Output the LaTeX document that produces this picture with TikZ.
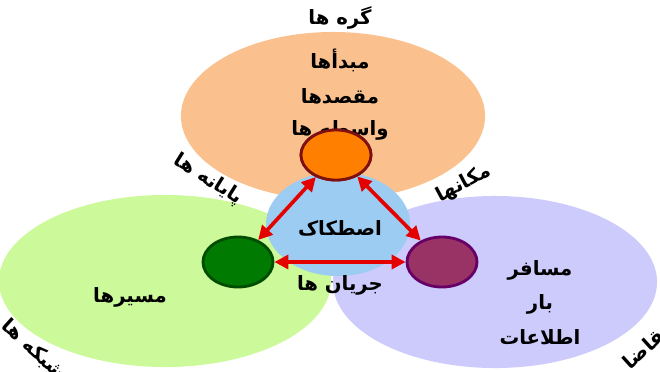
\documentclass[tikz,border=0pt]{standalone}
\usepackage{fontspec}
\usetikzlibrary{arrows.meta,shapes.geometric}
\newfontfamily\farsi[Script=Arabic]{DejaVu Sans}
\TeXXeTstate=1
\definecolor{peach}{HTML}{FAC18F}
\definecolor{leafgreen}{HTML}{CCF999}
\definecolor{lavender}{HTML}{CCCBFC}
\definecolor{skyblue}{HTML}{9DCCF2}
\definecolor{hubgreen}{HTML}{007A00}
\definecolor{hubplum}{HTML}{993366}
\definecolor{hubrim}{HTML}{7F1010}
\newcommand{\fa}[1]{{\farsi\bfseries\beginR #1\endR}}
\tikzset{
  zone/.style={ellipse, draw=none},
  hub/.style={ellipse, line width=2pt, minimum width=1.75cm, minimum height=1.25cm},
  link/.style={{Triangle[length=10pt,width=10pt]}-{Triangle[length=10pt,width=10pt]}, red!90!black, line width=2.6pt},
  lbl/.style={font=\fontsize{14}{16}\selectfont, text=black}
}
\begin{document}
\begin{tikzpicture}[x=0.025cm, y=-0.025cm]
\useasboundingbox (0,0) rectangle (660,371);
\clip (0,0) rectangle (660,371);

% Zones
\node[zone, fill=peach, minimum width=7.6cm, minimum height=4.2cm] (nodes) at (333,116) {};
\node[zone, fill=leafgreen, minimum width=8.3cm, minimum height=4.3cm] (net) at (165,281) {};
\node[zone, fill=lavender, minimum width=8.1cm, minimum height=4.3cm] (demand) at (495,282) {};
\node[zone, fill=skyblue, minimum width=3.6cm, minimum height=2.6cm] (friction) at (338,224) {};

% Hubs
\node[hub, fill=orange, draw=hubrim] (place) at (336,155) {};
\node[hub, fill=hubgreen, draw=green!30!black] (term) at (238,262) {};
\node[hub, fill=hubplum, draw=violet!80!black] (flow) at (442,262) {};

% Links
\draw[link] (place) -- (term);
\draw[link] (place) -- (flow);
\draw[link] (term) -- (flow);

% Labels
\node[lbl] (tnodes) at (340,18) {\fa{گره ها}};
\node[lbl] (tsrc) at (340,60) {\fa{مبدأها}};
\node[lbl] (tdst) at (340,96) {\fa{مقصدها}};
\node[lbl] at (340,130) {\fa{واسطه ها}};
\node[lbl] (tfric) at (340,228) {\fa{اصطکاک}};
\node[lbl] (tflow) at (340,285) {\fa{جریان ها}};
\node[lbl] (troute) at (130,297) {\fa{مسیرها}};
\node[lbl] (tpass) at (540,270) {\fa{مسافر}};
\node[lbl] (tload) at (540,304) {\fa{بار}};
\node[lbl] (tinfo) at (540,337) {\fa{اطلاعات}};
\node[lbl, rotate=-32] (tterm) at (208,180) {\fa{پایانه ها}};
\node[lbl, rotate=28] (tplace) at (464,184) {\fa{مکانها}};
\node[lbl, rotate=-42] (tnet) at (34,350) {\fa{شبکه ها}};
\node[lbl, rotate=42] (tdem) at (646,346) {\fa{تقاضا}};

% Redraw hub over label
\node[hub, fill=orange, draw=hubrim] at (336,155) {};
\end{tikzpicture}
\end{document}
